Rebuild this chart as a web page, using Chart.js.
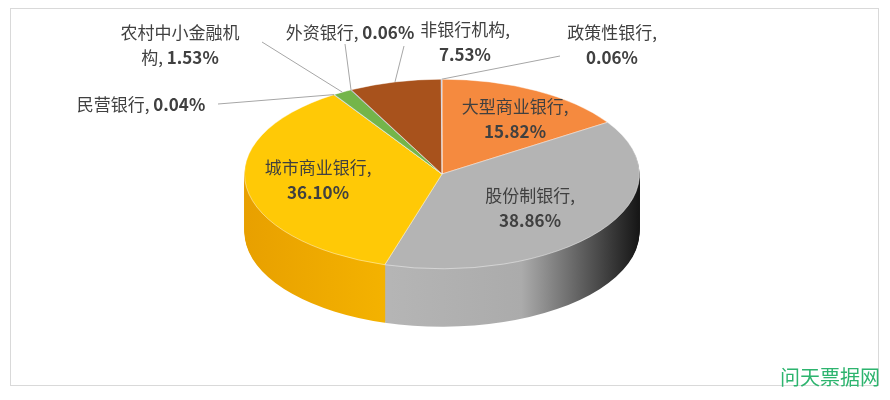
<!DOCTYPE html>
<html>
<head>
<meta charset="utf-8">
<script src="https://cdn.jsdelivr.net/npm/chart.js@4/dist/chart.umd.min.js"></script>
<style>
  body { margin: 0; background: #fff; }
  canvas { display: block; }
</style>
</head>
<body>
<canvas id="c" width="890" height="400"></canvas>
<script>
const categories = ['大型商业银行', '股份制银行', '城市商业银行', '民营银行', '农村中小金融机构', '外资银行', '非银行机构', '政策性银行'];
const shares = [15.82, 38.86, 36.10, 0.04, 1.53, 0.06, 7.53, 0.06];
const topColors = ['#F58A3F', '#B4B4B4', '#FFC906', '#3E6FB5', '#74B54A', '#2E5597', '#A8521C', '#8FAADC'];
const sideColors = [['#E3722A', '#E3722A', '#F08035'], ['#C0C0C0', '#ABABAB', '#151515'], ['#E8A000', '#FFC400', '#FFC400'], ['#2E5597', '#2E5597', '#2E5597'], ['#5A9236', '#5A9236', '#5A9236'], ['#223F70', '#223F70', '#223F70'], ['#80400F', '#80400F', '#80400F'], ['#6F8AC0', '#6F8AC0', '#6F8AC0']];

// label placement: text centre, line split, leader line start
const labelSpots = [
  { x: 515, y: 107, split: 'two', lead: null },
  { x: 530, y: 196, split: 'two', lead: null },
  { x: 318, y: 168, split: 'two', lead: null },
  { x: 141, y: 105, split: 'one', lead: [218, 104] },
  { x: 180, y: 33, split: 'rural', lead: [262, 42] },
  { x: 350, y: 33, split: 'one', lead: [345, 44] },
  { x: 465, y: 30, split: 'two', lead: [404, 46] },
  { x: 612, y: 33, split: 'two', lead: [560, 56] }
];

const SQ = 0.48, CY = 174, DEPTH = 58;
const FONT = '"Noto Sans CJK SC", "Noto Sans", sans-serif';

const pie3d = {
  id: 'pie3d',
  beforeDatasetsDraw(chart) {
    const ctx = chart.ctx;
    const meta = chart.getDatasetMeta(0);
    const cy = meta.data[0].y;
    // side walls
    for (let k = DEPTH; k >= 1; k--) {
      ctx.save();
      ctx.translate(0, CY + k - cy * SQ);
      ctx.scale(1, SQ);
      meta.data.forEach((el, i) => {
        const g = ctx.createLinearGradient(245, 0, 640, 0);
        g.addColorStop(0, sideColors[i][0]);
        g.addColorStop(0.7, sideColors[i][1]);
        g.addColorStop(1, sideColors[i][2]);
        const o = el.options;
        const bg = o.backgroundColor, bw = o.borderWidth;
        o.backgroundColor = g; o.borderWidth = 0;
        el.draw(ctx);
        o.backgroundColor = bg; o.borderWidth = bw;
      });
      ctx.restore();
    }
    ctx.save();
    ctx.translate(0, CY - cy * SQ);
    ctx.scale(1, SQ);
  },
  afterDatasetsDraw(chart) {
    const ctx = chart.ctx;
    ctx.restore();
    const meta = chart.getDatasetMeta(0);
    ctx.save();
    ctx.textBaseline = 'middle';
    ctx.fillStyle = '#404040';
    ctx.strokeStyle = '#A6A6A6';
    ctx.lineWidth = 1;
    labelSpots.forEach((s, i) => {
      const el = meta.data[i];
      const val = shares[i].toFixed(2) + '%';
      let lines;
      if (s.split === 'two') lines = [[categories[i] + ',', ''], ['', val]];
      else if (s.split === 'one') lines = [[categories[i] + ', ', val]];
      else lines = [[categories[i].slice(0, 7), ''], [categories[i].slice(7) + ', ', val]];
      lines.forEach((ln, j) => {
        ctx.font = '17px ' + FONT;
        const w1 = ctx.measureText(ln[0]).width;
        ctx.font = 'bold 17px ' + FONT;
        const w2 = ctx.measureText(ln[1]).width;
        const x = s.x - (w1 + w2) / 2;
        const y = s.y + j * 25;
        ctx.textAlign = 'left';
        ctx.font = '17px ' + FONT;
        ctx.fillText(ln[0], x, y);
        ctx.font = 'bold 17px ' + FONT;
        ctx.fillText(ln[1], x + w1, y);
      });
      if (s.lead) {
        const mid = (el.startAngle + el.endAngle) / 2;
        const ex = el.x + Math.cos(mid) * el.outerRadius;
        const ey = CY + Math.sin(mid) * el.outerRadius * SQ;
        ctx.beginPath();
        ctx.moveTo(s.lead[0], s.lead[1]);
        ctx.lineTo(ex, ey);
        ctx.stroke();
      }
    });
    // frame and watermark
    ctx.strokeStyle = '#D9D9D9';
    ctx.strokeRect(10.5, 8.5, 868, 377);
    ctx.fillStyle = '#2DB46E';
    ctx.font = '20px ' + FONT;
    ctx.textAlign = 'center';
    ctx.fillText('问天票据网', 830, 377);
    ctx.restore();
  }
};

new Chart(document.getElementById('c').getContext('2d'), {
  type: 'pie',
  data: {
    labels: categories,
    datasets: [{
      data: shares,
      backgroundColor: topColors,
      borderColor: 'rgba(255,255,255,0.6)',
      borderWidth: 1
    }]
  },
  options: {
    responsive: false,
    animation: false,
    layout: { padding: { top: 2, bottom: 2, left: 0, right: 6 } },
    plugins: { legend: { display: false }, tooltip: { enabled: false } }
  },
  plugins: [pie3d]
});
</script>
</body>
</html>
